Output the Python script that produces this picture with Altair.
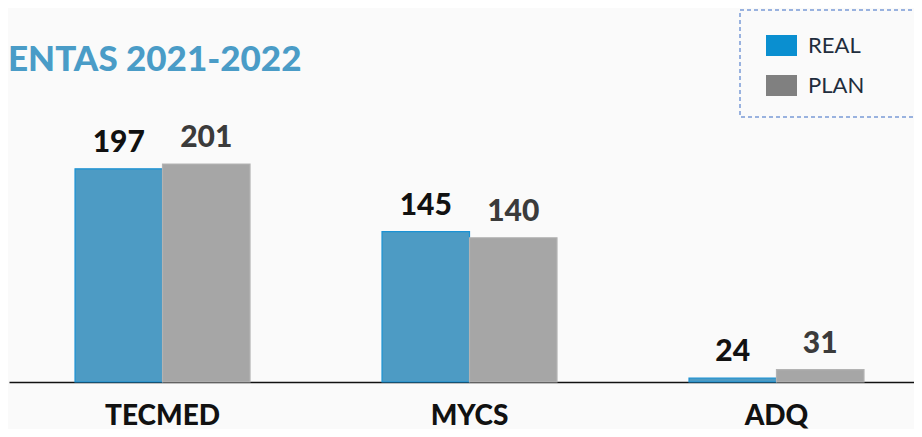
import altair as alt
import pandas as pd

categories = ["TECMED", "MYCS", "ADQ"]
series = ["REAL", "PLAN"]
real_values = [197, 145, 24]
plan_values = [201, 140, 31]
title_text = "ENTAS 2021-2022"

bar_fill = ["#4d9bc4", "#a6a6a6"]
bar_stroke = ["#1b92d4", "#b3b3b3"]
legend_colors = ["#0a8fd0", "#808080"]
y_min, y_max = 20.7, 330

rows = []
for c, r, p in zip(categories, real_values, plan_values):
    rows.append({"Categoria": c, "Serie": "REAL", "Leyenda": "REAL", "Valor": r})
    rows.append({"Categoria": c, "Serie": "PLAN", "Leyenda": "PLAN", "Valor": p})
df = pd.DataFrame(rows)

x_enc = alt.X(
    "Categoria:N",
    sort=categories,
    scale=alt.Scale(paddingInner=0.43, paddingOuter=0.189, align=0.569),
    axis=alt.Axis(
        title=None, labelAngle=0, ticks=False, domainColor="#111111", domainWidth=1.5,
        labelFont="Lato", labelFontSize=28, labelFontWeight=900, labelColor="#111111",
        labelPadding=20, grid=False,
    ),
)
xo_enc = alt.XOffset("Serie:N", sort=series, scale=alt.Scale(paddingInner=0, paddingOuter=0))
y_enc = alt.Y("Valor:Q", scale=alt.Scale(domain=[y_min, y_max], zero=False, nice=False), axis=None)

base = alt.Chart(df)

bars = base.mark_bar(strokeWidth=1.2).encode(
    x=x_enc,
    xOffset=xo_enc,
    y=y_enc,
    y2=alt.datum(y_min),
    fill=alt.Fill("Serie:N", scale=alt.Scale(domain=series, range=bar_fill), legend=None),
    stroke=alt.Stroke("Serie:N", scale=alt.Scale(domain=series, range=bar_stroke), legend=None),
)

legend_layer = base.mark_square(opacity=0).encode(
    x=x_enc,
    xOffset=xo_enc,
    y=y_enc,
    color=alt.Color(
        "Leyenda:N",
        sort=series,
        scale=alt.Scale(range=legend_colors),
        legend=alt.Legend(
            title=None, orient="none", legendX=731, legendY=2, direction="vertical",
            symbolType="M-1,-0.677H1V0.677H-1Z", symbolSize=961, symbolOpacity=1,
            symbolStrokeWidth=0, symbolOffset=6, labelOffset=11, rowPadding=13,
            labelFont="Lato", labelFontSize=22, labelColor="#1f2d3d",
            labelExpr="datum.label + '\u2800\u2800\u2800\u2800\u2800\u2800\u2800'", labelLimit=400,
            padding=20, strokeColor="#7a9ad6",
        ),
    ),
)

label_real = base.transform_filter(alt.datum.Serie == "REAL").mark_text(
    font="Lato", fontSize=30, fontWeight=900, baseline="alphabetic", dy=-17, color="#111111"
).encode(x=x_enc, xOffset=xo_enc, y=y_enc, text="Valor:Q")

label_plan = base.transform_filter(alt.datum.Serie == "PLAN").mark_text(
    font="Lato", fontSize=30, fontWeight=900, baseline="alphabetic", dy=-17, color="#3b3b3b"
).encode(x=x_enc, xOffset=xo_enc, y=y_enc, text="Valor:Q")

chart = (
    alt.layer(bars, legend_layer, label_real, label_plan)
    .properties(
        width=905,
        height=374,
        background="#fafafa",
        autosize=alt.AutoSizeParams(type="none"),
        padding={"left": 1, "top": 0, "right": 0, "bottom": 47},
        title=alt.TitleParams(
            title_text, anchor="start", frame="group", orient="top", offset=0, dy=98, dx=-1,
            baseline="alphabetic", font="Lato", fontSize=35, fontWeight=900, color="#4a9cc7",
        ),
    )
    .configure_view(stroke=None)
    .configure_legend(strokeDash=[4, 3], strokeWidth=1.5)
)

chart.save("out.html", embed_options={"renderer": "svg", "actions": False})
